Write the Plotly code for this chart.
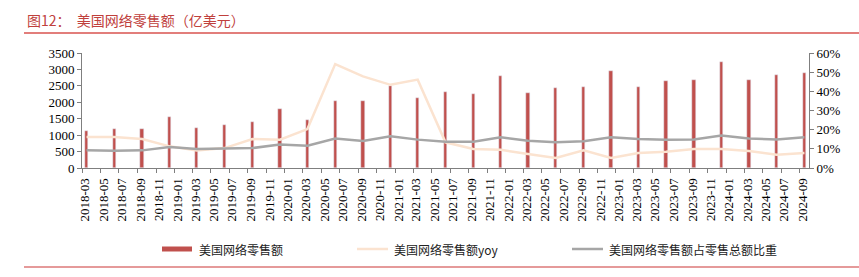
import pandas as pd
import plotly.graph_objects as go

# ---- data (quarterly) ----
quarters = ["2018-03", "2018-06", "2018-09", "2018-12",
            "2019-03", "2019-06", "2019-09", "2019-12",
            "2020-03", "2020-06", "2020-09", "2020-12",
            "2021-03", "2021-06", "2021-09", "2021-12",
            "2022-03", "2022-06", "2022-09", "2022-12",
            "2023-03", "2023-06", "2023-09", "2023-12",
            "2024-03", "2024-06", "2024-09"]
sales = [1114, 1196, 1196, 1552, 1217, 1318, 1388, 1784,
         1461, 2039, 2039, 2484, 2130, 2322, 2252, 2800,
         2292, 2435, 2453, 2940, 2474, 2657, 2687, 3235,
         2687, 2830, 2891]
yoy = [16.2, 16.2, 15.1, 11.3, 9.2, 10.4, 15.1, 14.8,
       20.3, 54.2, 47.8, 43.4, 46.1, 13.4, 9.9, 9.5,
       7.3, 5.2, 9.2, 5.2, 7.8, 8.5, 9.9, 9.9,
       8.9, 6.9, 7.8]
share = [9.2, 9.0, 9.2, 11.0, 9.9, 10.1, 10.4, 12.2,
         11.6, 15.4, 14.1, 16.5, 14.8, 13.7, 13.7, 16.0,
         14.2, 13.4, 13.9, 16.0, 15.1, 14.8, 14.9, 17.0,
         15.4, 14.9, 16.0]

names = ["美国网络零售额", "美国网络零售额yoy", "美国网络零售额占零售总额比重"]
title = "图12：  美国网络零售额（亿美元）"
source = "资料来源：Wind，中泰证券研究所"

BAR_C = "#C0504D"
YOY_C = "#FBE3D0"
SHARE_C = "#A6A6A6"
RED = "#C0403C"

# place each quarterly point in the middle of its month slot
x = pd.to_datetime(quarters, format="%Y-%m") + pd.Timedelta(days=15)

W, H = 859, 277
L, R, T, B = 82, 50, 53, 109
PW, PH = W - L - R, H - T - B


def px(v):
    return (v - L) / PW


def py(v):
    return (H - B - v) / PH


fig = go.Figure()
fig.add_trace(go.Bar(x=x, y=sales, name=names[0], marker_color=BAR_C,
                     width=11 * 86400000, yaxis="y", showlegend=False))
fig.add_trace(go.Scatter(x=x, y=yoy, name=names[1], mode="lines",
                         line=dict(color=YOY_C, width=2.5), yaxis="y2", showlegend=False))
fig.add_trace(go.Scatter(x=x, y=share, name=names[2], mode="lines",
                         line=dict(color=SHARE_C, width=2.5), yaxis="y2", showlegend=False))

tick_font = dict(family="Liberation Serif", size=13, color="#000")
fig.update_layout(
    width=W, height=H,
    margin=dict(l=L, r=R, t=T, b=B),
    paper_bgcolor="white", plot_bgcolor="white",
    xaxis=dict(type="date", range=["2018-03-01", "2024-10-01"],
               tick0="2018-03-01", dtick="M2", tickformat="%Y-%m",
               tickangle=-90, ticklabelshift=3, tickfont=tick_font,
               showgrid=False, showline=True, linecolor="#7F7F7F", linewidth=1,
               ticks="outside", ticklen=4, tickcolor="#7F7F7F"),
    yaxis=dict(range=[0, 3500], dtick=500, tickfont=tick_font,
               showgrid=False, zeroline=False, showline=True, linecolor="#7F7F7F",
               ticks="outside", ticklen=4, tickcolor="#7F7F7F"),
    yaxis2=dict(range=[0, 60], dtick=10, ticksuffix="%", overlaying="y", side="right",
                tickfont=tick_font, showgrid=False, zeroline=False, showline=True,
                linecolor="#7F7F7F", ticks="outside", ticklen=4, tickcolor="#7F7F7F"),
    bargap=0,
)

shapes = []
annotations = []
# title and rules
annotations.append(dict(text=title, xref="paper", yref="paper", x=px(25), y=py(20),
                        xanchor="left", yanchor="middle", showarrow=False,
                        font=dict(family="Noto Sans CJK SC", size=14, color=RED)))
shapes.append(dict(type="line", xref="paper", yref="paper", x0=px(24), x1=px(859),
                   y0=py(33), y1=py(33), line=dict(color="#D9534F", width=1.5)))
shapes.append(dict(type="line", xref="paper", yref="paper", x0=px(24), x1=px(859),
                   y0=py(267), y1=py(267), line=dict(color="#E59A9A", width=2)))
annotations.append(dict(text=source, xref="paper", yref="paper", x=px(25), y=py(274),
                        xanchor="left", yanchor="top", showarrow=False,
                        font=dict(family="Noto Sans CJK SC", size=12, color="#333")))

# legend
leg_y = 249
leg_font = dict(family="Noto Sans CJK SC", size=12, color="#222")
shapes.append(dict(type="rect", xref="paper", yref="paper", x0=px(162), x1=px(192),
                   y0=py(251.5), y1=py(246.5), fillcolor=BAR_C, line=dict(width=0)))
shapes.append(dict(type="line", xref="paper", yref="paper", x0=px(357), x1=px(388),
                   y0=py(leg_y), y1=py(leg_y), line=dict(color=YOY_C, width=2.5)))
shapes.append(dict(type="line", xref="paper", yref="paper", x0=px(572), x1=px(603),
                   y0=py(leg_y), y1=py(leg_y), line=dict(color=SHARE_C, width=2.5)))
for nm, lx in zip(names, [197, 392, 607]):
    annotations.append(dict(text=nm, xref="paper", yref="paper", x=px(lx), y=py(leg_y),
                            xanchor="left", yanchor="middle", showarrow=False,
                            font=leg_font))

fig.update_layout(shapes=shapes, annotations=annotations)
fig.write_html("out.html")
